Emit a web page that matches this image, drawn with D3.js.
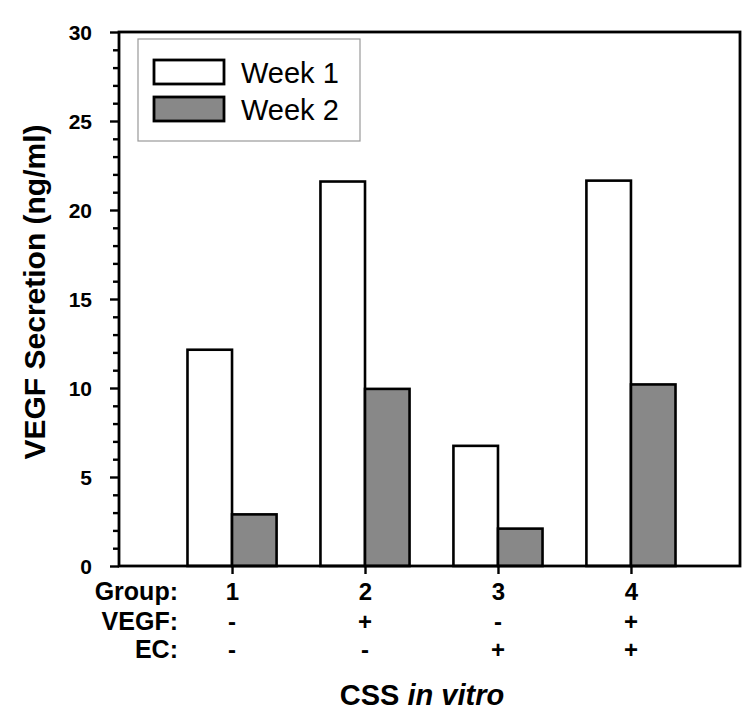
<!DOCTYPE html>
<html><head><meta charset="utf-8">
<script src="https://d3js.org/d3.v7.min.js"></script>
<style>body{margin:0;background:#fff}text{font-family:"Liberation Sans",Arial,Helvetica,sans-serif}</style>
</head><body><svg id="c" width="756" height="723"></svg>
<script>
const groups = [1, 2, 3, 4];
const vegfRow = ["-", "+", "-", "+"];
const ecRow = ["-", "-", "+", "+"];
const week1 = [12.15, 21.6, 6.75, 21.65];
const week2 = [2.9, 9.95, 2.1, 10.2];
const seriesNames = ["Week 1", "Week 2"];
const seriesColors = ["#ffffff", "#888888"];
const yMajor = [0, 5, 10, 15, 20, 25, 30];

const svg = d3.select("#c");
const L = 119, R = 740, T = 32, B = 566;
const x = d3.scaleLinear().domain([0.15, 4.82]).range([L, R]);
const y = d3.scaleLinear().domain([0, 30]).range([B, T]);
const bw = x(1.335) - x(1);
const FF = '"Liberation Sans",Arial,sans-serif';

// bars
const series = [week1, week2];
series.forEach((vals, si) => {
  svg.append("g").selectAll("rect").data(vals).enter().append("rect")
    .attr("x", (d, i) => si === 0 ? x(groups[i]) - bw : x(groups[i]))
    .attr("y", d => y(d))
    .attr("width", bw)
    .attr("height", d => y(0) - y(d))
    .attr("fill", seriesColors[si])
    .attr("stroke", "#000").attr("stroke-width", 2.6);
});

// frame
svg.append("rect").attr("x", L).attr("y", T).attr("width", R - L).attr("height", B - T)
  .attr("fill", "none").attr("stroke", "#000").attr("stroke-width", 2.8);

// y axis
const yAxis = d3.axisLeft(y).tickValues(d3.range(0, 31, 1)).tickSize(0)
  .tickFormat(d => yMajor.includes(d) ? d : "");
const ya = svg.append("g").attr("transform", `translate(${L},0)`).call(yAxis);
ya.select(".domain").remove();
ya.selectAll(".tick line").attr("x2", d => yMajor.includes(d) ? -9 : -6)
  .attr("stroke", "#000").attr("stroke-width", 2.4);
ya.selectAll(".tick text").attr("x", -27).attr("dy", "0.36em")
  .style("font-size", "21px").style("font-weight", "bold").attr("fill", "#000")
  .style("font-family", FF);

// x axis ticks
const xa = svg.append("g").attr("transform", `translate(0,${B})`)
  .call(d3.axisBottom(x).tickValues(groups).tickSize(8).tickFormat(d => d));
xa.select(".domain").remove();
xa.selectAll(".tick line").attr("stroke", "#000").attr("stroke-width", 2.4);
xa.selectAll(".tick text").attr("y", 0).attr("dy", "34px")
  .style("font-size", "24px").style("font-weight", "bold").attr("fill", "#000")
  .style("font-family", FF);

// row labels
const rowLabels = [["Group:", 600], ["VEGF:", 630], ["EC:", 658]];
rowLabels.forEach(([t, yy]) => {
  svg.append("text").attr("x", 178).attr("y", yy).attr("text-anchor", "end")
    .style("font-size", "25px").style("font-weight", "bold").text(t);
});
[[vegfRow, 630], [ecRow, 658]].forEach(([row, yy]) => {
  svg.append("g").selectAll("text").data(row).enter().append("text")
    .attr("x", (d, i) => x(groups[i])).attr("y", yy).attr("text-anchor", "middle")
    .style("font-size", "24px").style("font-weight", "bold").text(d => d);
});

// x title
const xt = svg.append("text").attr("x", 422).attr("y", 705).attr("text-anchor", "middle")
  .style("font-size", "29px").style("font-weight", "bold");
xt.append("tspan").text("CSS ");
xt.append("tspan").style("font-style", "italic").text("in vitro");

// y title
svg.append("text").attr("transform", `translate(45,292) rotate(-90)`)
  .attr("text-anchor", "middle").style("font-size", "30px").style("font-weight", "bold")
  .text("VEGF Secretion (ng/ml)");

// legend
const lg = svg.append("g");
lg.append("rect").attr("x", 138).attr("y", 39).attr("width", 222).attr("height", 102)
  .attr("fill", "#fff").attr("stroke", "#999").attr("stroke-width", 1.2);
seriesNames.forEach((n, i) => {
  lg.append("rect").attr("x", 154).attr("y", 60 + i * 37).attr("width", 70).attr("height", 24)
    .attr("fill", seriesColors[i]).attr("stroke", "#000").attr("stroke-width", 2.8);
  lg.append("text").attr("x", 241).attr("y", 83 + i * 37).style("font-size", "29px").text(n);
});
</script></body></html>
